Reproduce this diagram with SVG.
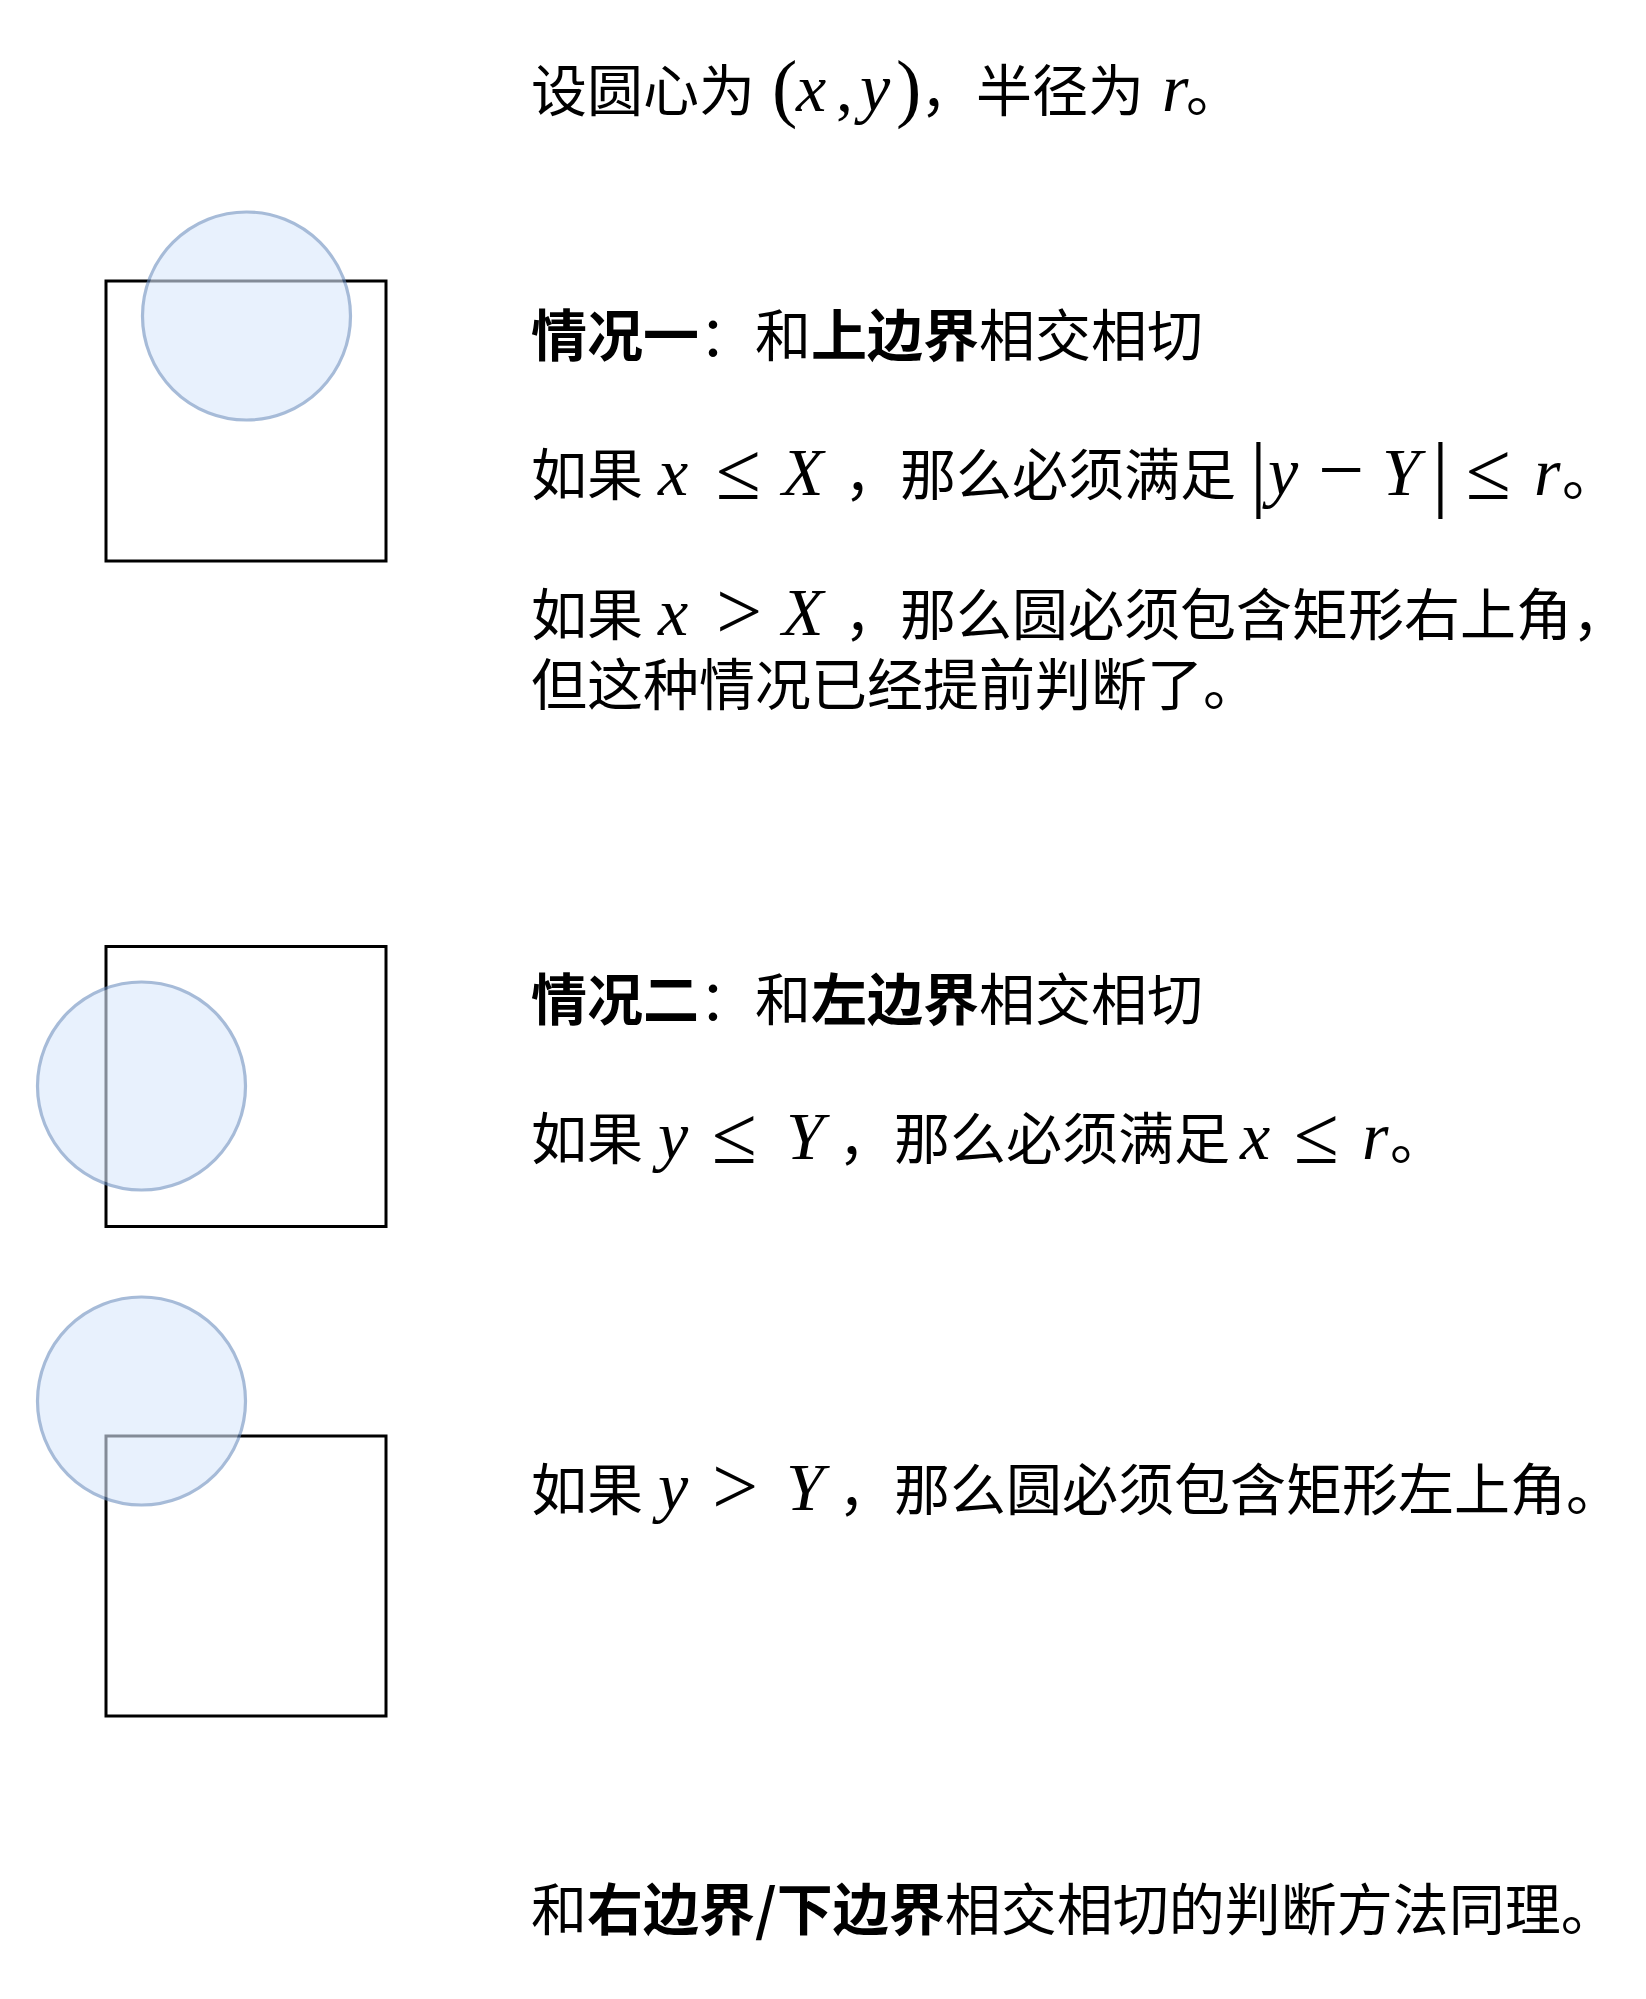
<svg xmlns="http://www.w3.org/2000/svg" width="1646" height="1999" viewBox="0 0 1646 1999">
<style>
.cjk{font-family:"Noto Sans CJK SC","Noto Sans",sans-serif;font-size:56px;fill:#000}
.b{font-weight:bold}
.m{font-family:"Liberation Serif","DejaVu Serif",serif;font-size:68px;fill:#000}
.i{font-style:italic}
.op{font-family:"Liberation Serif","DejaVu Serif",serif;font-size:82px;fill:#000}
.bar{font-family:"Liberation Serif",serif;font-size:84px;fill:#000}
.box{fill:none;stroke:#000;stroke-width:3}
.circ{fill:#dae8fc;stroke:#6c8ebf;stroke-width:3.2;opacity:0.6}
</style>
<rect width="1646" height="1999" fill="#fff"/>
<g id="shapes">
<g id="case1-rect"><rect class="box" x="106" y="281" width="280" height="280"/></g>
<g id="case1-circle"><circle class="circ" cx="246.5" cy="316" r="104"/></g>
<g id="case2-rect"><rect class="box" x="106" y="946.5" width="280" height="280"/></g>
<g id="case2-circle"><circle class="circ" cx="141.5" cy="1086" r="104"/></g>
<g id="case3-rect"><rect class="box" x="106" y="1436" width="280" height="280"/></g>
<g id="case3-circle"><circle class="circ" cx="141.5" cy="1401" r="104"/></g>
</g>
<g id="connectors"/>
<g id="text-intro">
<text class="cjk" x="531" y="111">设圆心为</text>
<text class="m" x="772" y="113" style="font-size:76px">(</text>
<text class="m i" x="796" y="111">x</text>
<text class="m" x="836" y="111">,</text>
<text class="m i" x="860" y="111">y</text>
<text class="m" x="896" y="113" style="font-size:76px">)</text>
<text class="cjk" x="920" y="111">，半径为</text>
<text class="m i" x="1162" y="111">r</text>
<text class="cjk" x="1186" y="111">。</text>
</g>
<g id="text-case1-title">
<text class="cjk" x="531" y="356"><tspan class="b">情况一</tspan>：和<tspan class="b">上边界</tspan>相交相切</text>
</g>
<g id="text-case1-a">
<text class="cjk" x="531" y="495">如果</text>
<text class="m i" x="658" y="495">x</text>
<text class="op" x="716" y="499">≤</text>
<text class="m i" x="782" y="495">X</text>
<text class="cjk" x="844" y="495">，那么必须满足</text>
<text class="bar" x="1250" y="501">|</text>
<text class="m i" x="1268" y="495">y</text>
<text class="op" x="1318" y="497">−</text>
<text class="m i" x="1382" y="495">Y</text>
<text class="bar" x="1432" y="501">|</text>
<text class="op" x="1466" y="499">≤</text>
<text class="m i" x="1534" y="495">r</text>
<text class="cjk" x="1562" y="495">。</text>
</g>
<g id="text-case1-b">
<text class="cjk" x="531" y="635">如果</text>
<text class="m i" x="658" y="635">x</text>
<text class="op" x="716" y="639">&gt;</text>
<text class="m i" x="782" y="635">X</text>
<text class="cjk" x="844" y="635">，那么圆必须包含矩形右上角，</text>
<text class="cjk" x="531" y="705">但这种情况已经提前判断了。</text>
</g>
<g id="text-case2-title">
<text class="cjk" x="531" y="1020"><tspan class="b">情况二</tspan>：和<tspan class="b">左边界</tspan>相交相切</text>
</g>
<g id="text-case2-a">
<text class="cjk" x="531" y="1159">如果</text>
<text class="m i" x="658" y="1159">y</text>
<text class="op" x="712" y="1163">≤</text>
<text class="m i" x="786" y="1159">Y</text>
<text class="cjk" x="838" y="1159">，那么必须满足</text>
<text class="m i" x="1240" y="1159">x</text>
<text class="op" x="1294" y="1163">≤</text>
<text class="m i" x="1362" y="1159">r</text>
<text class="cjk" x="1390" y="1159">。</text>
</g>
<g id="text-case2-b">
<text class="cjk" x="531" y="1510">如果</text>
<text class="m i" x="658" y="1510">y</text>
<text class="op" x="712" y="1514">&gt;</text>
<text class="m i" x="786" y="1510">Y</text>
<text class="cjk" x="838" y="1510">，那么圆必须包含矩形左上角。</text>
</g>
<g id="text-other">
<text class="cjk" x="531" y="1930">和<tspan class="b">右边界/下边界</tspan>相交相切的判断方法同理。</text>
</g>
</svg>
